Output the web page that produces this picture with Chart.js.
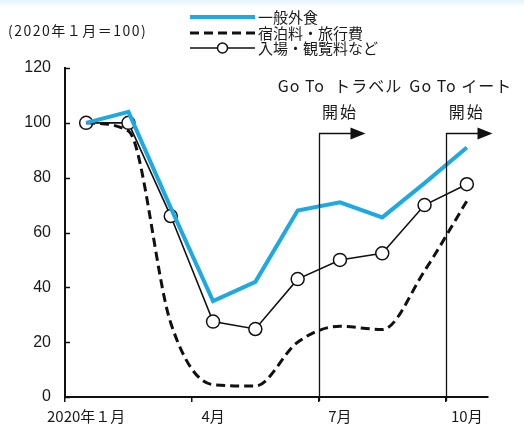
<!DOCTYPE html>
<html lang="ja">
<head>
<meta charset="utf-8">
<script src="https://cdn.jsdelivr.net/npm/chart.js@4/dist/chart.umd.min.js"></script>
<style>
  html, body { margin: 0; padding: 0; background: #fff; }
  body { background: linear-gradient(to bottom, #e4f3fb 0px, #ffffff 7px); }
  #wrap { width: 524px; height: 430px; position: relative; }
</style>
</head>
<body>
<div id="wrap"><canvas id="c" width="524" height="430"></canvas></div>
<script>
// 月次（2020年1月〜10月）
const months = ['2020年１月', '2月', '3月', '4月', '5月', '6月', '7月', '8月', '9月', '10月'];
const shownLabels = [0, 3, 6, 9];

// 消費者物価指数（2020年1月＝100）
const diningOut = [100, 104, 69, 35, 42, 68, 71, 65.5, 78, 91];
const lodgingTravel = [100, 97, 27, 4.5, 4, 20, 25.8, 24.6, 46, 71.5];
const admissionFees = [100, 100, 66, 27.5, 24.8, 43, 50, 52.4, 70, 77.6];

const seriesNames = ['一般外食', '宿泊料・旅行費', '入場・観覧料など'];
const unitNote = '(2020年１月＝100)';

const yTicks = [0, 20, 40, 60, 80, 100, 120];

// キャンペーン開始（その月の区切り位置に矢印）
const campaigns = [
  { index: 6, top: 96.3, lines: ['Go To  トラベル', '開始'], dx: 0 },
  { index: 9, top: 96.3, lines: ['Go To イート', '開始'], dx: -6 }
];

const BLUE = '#1ea9e1';
const JP = '"Noto Sans CJK JP", "Noto Sans", sans-serif';
const NUM = '"Liberation Sans", Arial, sans-serif';

const decor = {
  id: 'decor',
  afterDraw(chart) {
    const { ctx, chartArea: a, scales: { x, y } } = chart;
    ctx.save();

    // y軸の内向き目盛り
    ctx.strokeStyle = '#111';
    ctx.lineWidth = 1.5;
    yTicks.forEach(v => {
      const py = Math.round(y.getPixelForValue(v)) + 0.5;
      ctx.beginPath();
      ctx.moveTo(a.left, py);
      ctx.lineTo(a.left + 5, py);
      ctx.stroke();
    });

    // キャンペーン矢印と注記
    campaigns.forEach(c => {
      const bx = Math.round((x.getPixelForValue(c.index - 1) + x.getPixelForValue(c.index)) / 2) + 0.5;
      const ty = Math.round(y.getPixelForValue(c.top)) + 0.5;
      const cx = x.getPixelForValue(c.index);
      ctx.strokeStyle = '#111';
      ctx.lineWidth = 1.3;
      ctx.beginPath();
      ctx.moveTo(bx, a.bottom + 4);
      ctx.lineTo(bx, ty);
      ctx.lineTo(bx + 32, ty);
      ctx.stroke();
      ctx.fillStyle = '#111';
      ctx.beginPath();
      ctx.moveTo(bx + 31, ty - 6);
      ctx.lineTo(bx + 46, ty);
      ctx.lineTo(bx + 31, ty + 6);
      ctx.closePath();
      ctx.fill();

      ctx.textAlign = 'center';
      ctx.textBaseline = 'middle';
      ctx.fillStyle = '#1a1a1a';
      ctx.font = '16px ' + JP;
      ctx.letterSpacing = '1px';
      ctx.fillText(c.lines[0], cx + c.dx, ty - 48);
      ctx.letterSpacing = '2px';
      ctx.fillText(c.lines[1], cx, ty - 22);
      ctx.letterSpacing = '0px';
    });

    // 単位
    ctx.textAlign = 'left';
    ctx.textBaseline = 'middle';
    ctx.fillStyle = '#1a1a1a';
    ctx.font = '14px ' + JP;
    ctx.letterSpacing = '1.5px';
    ctx.fillText(unitNote, 8, 31);
    ctx.letterSpacing = '0px';

    // 凡例
    const lx0 = 190, lx1 = 255, tx = 258;
    const rows = [17, 33, 48];
    const ds = chart.data.datasets;
    rows.forEach((ry, i) => {
      const d = ds[i];
      ctx.strokeStyle = d.borderColor;
      ctx.lineWidth = d.borderWidth;
      ctx.setLineDash(d.borderDash || []);
      ctx.beginPath();
      ctx.moveTo(lx0, ry);
      ctx.lineTo(lx1, ry);
      ctx.stroke();
      ctx.setLineDash([]);
      if (d.pointRadius > 0) {
        ctx.fillStyle = d.pointBackgroundColor;
        ctx.strokeStyle = d.pointBorderColor;
        ctx.lineWidth = d.pointBorderWidth;
        ctx.beginPath();
        ctx.arc((lx0 + lx1) / 2, ry, 5, 0, Math.PI * 2);
        ctx.fill();
        ctx.stroke();
      }
      ctx.fillStyle = '#1a1a1a';
      ctx.font = '15px ' + JP;
      ctx.fillText(d.label, tx, ry);
    });

    ctx.restore();
  }
};

new Chart(document.getElementById('c'), {
  type: 'line',
  data: {
    labels: months,
    datasets: [
      {
        label: seriesNames[0],
        data: diningOut,
        borderColor: BLUE,
        borderWidth: 4,
        pointRadius: 0,
        tension: 0
      },
      {
        label: seriesNames[1],
        data: lodgingTravel,
        borderColor: '#111',
        borderWidth: 3,
        borderDash: [9, 5],
        pointRadius: 0,
        cubicInterpolationMode: 'monotone'
      },
      {
        label: seriesNames[2],
        data: admissionFees,
        borderColor: '#111',
        borderWidth: 1.6,
        pointRadius: 6.5,
        pointBackgroundColor: '#fff',
        pointBorderColor: '#111',
        pointBorderWidth: 1.5,
        tension: 0
      }
    ]
  },
  options: {
    responsive: false,
    animation: false,
    events: [],
    layout: { padding: { top: 68, right: 36, left: 0, bottom: 0 } },
    plugins: { legend: { display: false }, tooltip: { enabled: false } },
    scales: {
      x: {
        type: 'category',
        offset: true,
        border: { color: '#111', width: 2 },
        grid: {
          offset: true,
          drawOnChartArea: false,
          tickLength: 5,
          lineWidth: 1.5,
          color: c => (c.index % 3 === 0 ? '#111' : 'rgba(0,0,0,0)')
        },
        ticks: {
          autoSkip: false,
          maxRotation: 0,
          minRotation: 0,
          padding: 5,
          color: '#1a1a1a',
          font: { family: JP, size: 15 },
          callback: (v, i) => (shownLabels.includes(i) ? months[i] : '')
        },
        afterFit: s => { s.height = 33; }
      },
      y: {
        min: 0,
        max: 120,
        border: { color: '#111', width: 2 },
        grid: { drawOnChartArea: false, drawTicks: false, tickLength: 0 },
        ticks: {
          stepSize: 20,
          padding: 14,
          color: '#1a1a1a',
          font: { family: NUM, size: 16 },
          callback: v => (yTicks.includes(v) ? String(v) : '')
        },
        afterFit: s => { s.width = 65; }
      }
    }
  },
  plugins: [decor]
});
</script>
</body>
</html>
